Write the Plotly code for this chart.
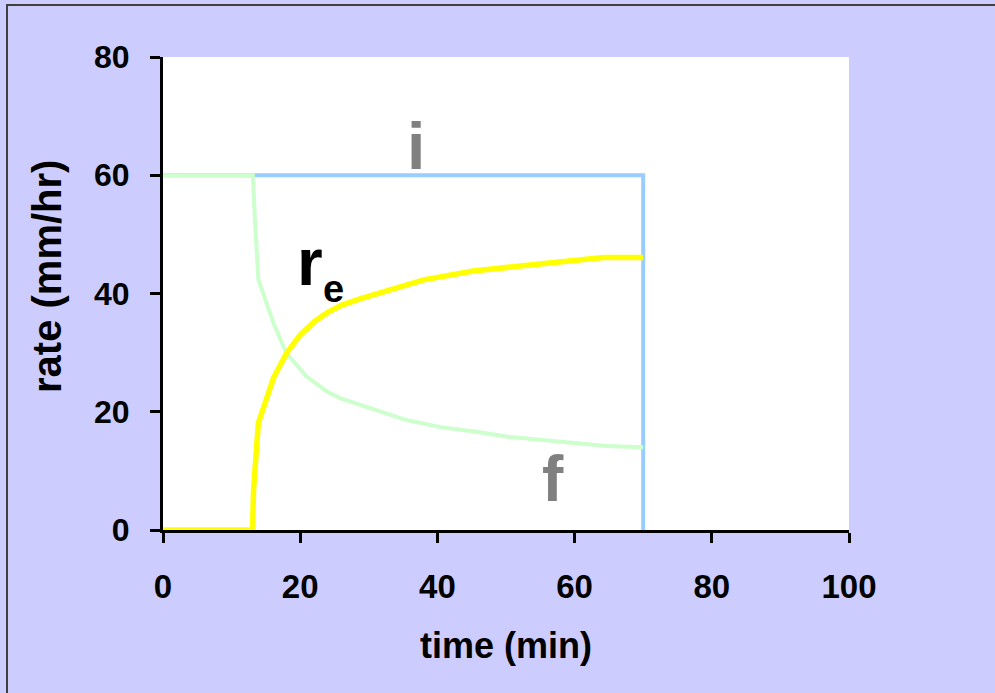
import plotly.graph_objects as go

# Data
i_t = [0, 70, 70]
i_v = [60, 60, 0]

f_t = [0, 13.1, 13.4, 13.9, 16.1, 18.0, 20.9, 23.9, 25.8, 28.7, 30.7, 35.5, 40.4, 45.2, 50.1, 55.0, 59.8, 64.7, 70.0]
f_v = [60, 60, 52.5, 42.4, 35.0, 29.9, 26.0, 23.4, 22.3, 21.2, 20.6, 18.6, 17.4, 16.7, 15.8, 15.3, 14.7, 14.2, 14.0]

re_t = [0, 13.05, 13.2, 13.9, 16.1, 18.0, 20.0, 22.0, 24.0, 26.0, 28.7, 31.0, 34.0, 38.0, 45.2, 51.6, 57.4, 64.2, 70.0]
re_v = [0, 0, 6.8, 18.1, 25.7, 29.9, 33.0, 35.2, 36.8, 38.0, 39.1, 39.9, 41.0, 42.3, 43.8, 44.7, 45.3, 46.1, 46.1]

x_ticks = [0, 20, 40, 60, 80, 100]
y_ticks = [0, 20, 40, 60, 80]

FONT = "Arial, Liberation Sans, sans-serif"

fig = go.Figure()
fig.add_trace(go.Scatter(x=i_t, y=i_v, mode="lines", line=dict(color="#99CCFF", width=4), showlegend=False))
fig.add_trace(go.Scatter(x=f_t, y=f_v, mode="lines", line=dict(color="#CCFFCC", width=4), showlegend=False))
fig.add_trace(go.Scatter(x=re_t, y=re_v, mode="lines", line=dict(color="#FFFF00", width=5.5), showlegend=False))

fig.update_layout(
    width=995, height=693,
    margin=dict(l=163, r=146, t=57, b=163),
    paper_bgcolor="#CCCCFF",
    plot_bgcolor="#FFFFFF",
    font=dict(family=FONT, color="#000000"),
    xaxis=dict(range=[0, 100], tickvals=x_ticks, showgrid=False, zeroline=False,
               showline=True, linecolor="#000000", linewidth=3,
               ticks="outside", ticklen=10, tickwidth=3, tickcolor="#000000",
               tickfont=dict(size=33, family=FONT, weight="bold"),
               ticklabelstandoff=15),
    yaxis=dict(range=[0, 80], tickvals=y_ticks, showgrid=False, zeroline=False,
               showline=True, linecolor="#000000", linewidth=3,
               ticks="outside", ticklen=10, tickwidth=3, tickcolor="#000000",
               tickfont=dict(size=32, family=FONT, weight="bold"),
               ticklabelstandoff=14),
)

# frame border
fig.add_shape(type="rect", xref="paper", yref="paper",
              x0=(7 - 163) / 686, x1=1.3, y0=-0.5, y1=(530 - 5) / 473,
              line=dict(color="#404040", width=2), fillcolor="rgba(0,0,0,0)", layer="below")

anns = [
    dict(x=0.5, y=(530 - 645) / 473, xref="paper", yref="paper", text="<b>time (min)</b>",
         font=dict(size=36, family=FONT), showarrow=False, xanchor="center", yanchor="middle"),
    dict(x=(47 - 163) / 686, y=(530 - 277) / 473, xref="paper", yref="paper", text="<b>rate (mm/hr)</b>",
         font=dict(size=40, family=FONT), showarrow=False, textangle=-90, xanchor="center", yanchor="middle"),
    dict(x=36.9, y=65.0, text="<b>i</b>", font=dict(size=66, family=FONT, color="#808080"),
         showarrow=False, xanchor="center", yanchor="middle"),
    dict(x=56.8, y=8.6, text="<b>f</b>", font=dict(size=64, family=FONT, color="#808080"),
         showarrow=False, xanchor="center", yanchor="middle"),
    dict(x=21.5, y=45.3, text="<b>r</b>", font=dict(size=66, family=FONT, color="#000000"),
         showarrow=False, xanchor="center", yanchor="middle"),
    dict(x=24.9, y=40.8, text="<b>e</b>", font=dict(size=38, family=FONT, color="#000000"),
         showarrow=False, xanchor="center", yanchor="middle"),
]
fig.update_layout(annotations=anns)

fig.write_html("out.html")
